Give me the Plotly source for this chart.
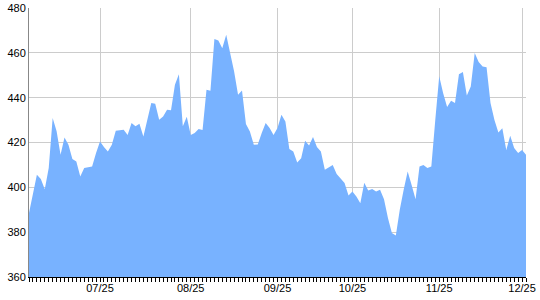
import plotly.graph_objects as go

# Daily values (one per trading day, left to right)
values = [
    388.6, 397.0, 405.6, 403.7, 399.2, 408.6, 430.9, 425.0, 414.5, 422.2,
    419.0, 412.6, 411.5, 404.8, 408.6, 409.0, 409.3, 415.3, 420.4, 418.0,
    416.0, 419.0, 425.2, 425.5, 425.7, 423.4, 428.7, 427.2, 428.4, 422.7,
    430.0, 437.6, 437.3, 430.1, 431.6, 434.6, 434.4, 445.8, 450.5, 427.2,
    431.5, 423.4, 424.2, 426.0, 425.6, 443.5, 443.1, 466.2, 465.5, 462.1,
    468.1, 460.6, 451.7, 441.3, 443.2, 428.3, 424.9, 419.0, 419.1, 424.2,
    428.7, 426.5, 423.4, 426.5, 432.4, 429.4, 417.1, 416.0, 411.1, 413.0,
    420.8, 418.7, 422.4, 418.0, 416.0, 407.8, 409.0, 410.0, 406.0, 404.0,
    401.9, 396.4, 398.1, 395.9, 392.9, 402.1, 398.6, 399.3, 398.1, 398.9,
    394.7, 386.3, 379.6, 378.5, 390.0, 399.0, 407.1, 401.0, 394.7, 409.3,
    410.0, 408.6, 409.3, 430.0, 449.5, 442.0, 435.8, 438.6, 437.6, 450.5,
    451.4, 441.0, 445.0, 459.9, 455.9, 453.9, 453.6, 437.6, 430.0, 424.5,
    426.4, 416.7, 423.0, 417.5, 415.3, 416.7, 414.5,
]
day_index = list(range(len(values)))

# Month labels and the trading-day index where each falls
tick_days = [18, 41, 63, 82, 104, 125]
tick_labels = ["07/25", "08/25", "09/25", "10/25", "11/25", "12/25"]

y_ticks = [360, 380, 400, 420, 440, 460, 480]

fig = go.Figure()
fig.add_trace(go.Scatter(
    x=day_index, y=values, mode="lines",
    line=dict(width=0, color="rgb(120,178,255)"),
    fill="tozeroy", fillcolor="rgb(120,178,255)",
    hoverinfo="skip", showlegend=False,
))

fig.update_layout(
    width=540, height=300,
    margin=dict(l=29, r=14, t=8, b=23, autoexpand=False),
    paper_bgcolor="white", plot_bgcolor="white",
    font=dict(family="Liberation Sans, Arial, sans-serif", size=11, color="black"),
    xaxis=dict(
        range=[0, len(values) - 1], automargin=False,
        tickmode="array", tickvals=tick_days, ticktext=tick_labels,
        showgrid=True, gridcolor="#cccccc", gridwidth=1,
        showline=True, linecolor="black", linewidth=1,
        ticks="outside", ticklen=4, tickcolor="black", tickwidth=1,
        ticklabelstandoff=-3,
        minor=dict(dtick=1, tick0=0, ticks="outside", ticklen=4,
                   tickcolor="black", tickwidth=1, showgrid=False),
        zeroline=False, fixedrange=True,
    ),
    yaxis=dict(
        range=[360, 480], automargin=False,
        tickmode="array", tickvals=y_ticks,
        showgrid=True, gridcolor="#cccccc", gridwidth=1,
        showline=True, linecolor="#888888", linewidth=1,
        ticks="", zeroline=False, fixedrange=True,
    ),
)

fig.write_html("out.html")
